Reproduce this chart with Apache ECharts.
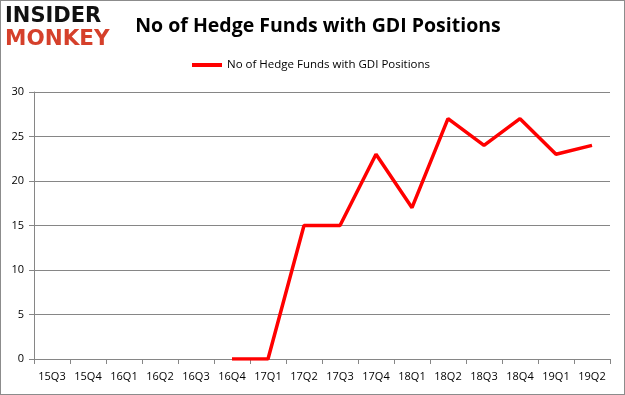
<!DOCTYPE html>
<html><head><meta charset="utf-8">
<script src="https://cdn.jsdelivr.net/npm/echarts@6/dist/echarts.min.js"></script>
<style>
html,body{margin:0;padding:0;background:#fff;}
#c{width:623px;height:393px;border:1px solid #8c8c8c;}
</style></head><body>
<div id="c"></div>
<script>
var categories = ['15Q3','15Q4','16Q1','16Q2','16Q3','16Q4','17Q1','17Q2','17Q3','17Q4','18Q1','18Q2','18Q3','18Q4','19Q1','19Q2'];
var seriesName = 'No of Hedge Funds with GDI Positions';
var values = [null,null,null,null,null,0,0,15,15,23,17,27,24,27,23,24];
var yTicks = {min:0, max:30, interval:5};

var chart = echarts.init(document.getElementById('c'));
chart.setOption({
  animation:false,
  title:{text:seriesName, left:312, top:10, textAlign:'center',
    textStyle:{fontFamily:'Open Sans', fontWeight:'bold', fontSize:19.5, color:'#000'}},
  graphic:[
    {type:'text', left:4, top:5, style:{text:'INSIDER', fontFamily:'DejaVu Sans', fontWeight:'bold', fontSize:21, fill:'#111'}},
    {type:'text', left:4, top:27, style:{text:'MONKEY', fontFamily:'DejaVu Sans', fontWeight:'bold', fontSize:21.5, fill:'#d5402b'}}
  ],
  legend:{data:[seriesName], left:186, top:53, itemWidth:30, itemHeight:4, itemGap:4,
    textStyle:{fontFamily:'Open Sans', fontSize:11.5, color:'#000'}, icon:'rect'},
  grid:{left:33, right:14, top:91, bottom:35, containLabel:false},
  xAxis:{type:'category', data:categories, boundaryGap:true,
    axisLine:{lineStyle:{color:'#868686'}},
    axisTick:{show:true, alignWithLabel:false, length:5, lineStyle:{color:'#868686'}},
    axisLabel:{fontFamily:'Open Sans', fontSize:11, color:'#000', margin:12, interval:0}},
  yAxis:{type:'value', min:yTicks.min, max:yTicks.max, interval:yTicks.interval,
    axisLine:{show:true, lineStyle:{color:'#868686'}},
    axisTick:{show:true, length:5, lineStyle:{color:'#868686'}},
    splitLine:{lineStyle:{color:'#868686'}},
    axisLabel:{fontFamily:'Open Sans', fontSize:11, color:'#000', margin:10}},
  series:[{name:seriesName, type:'line', data:values, symbol:'none', connectNulls:false,
    lineStyle:{color:'#ff0000', width:3.5}, itemStyle:{color:'#ff0000'}}]
});
</script></body></html>
